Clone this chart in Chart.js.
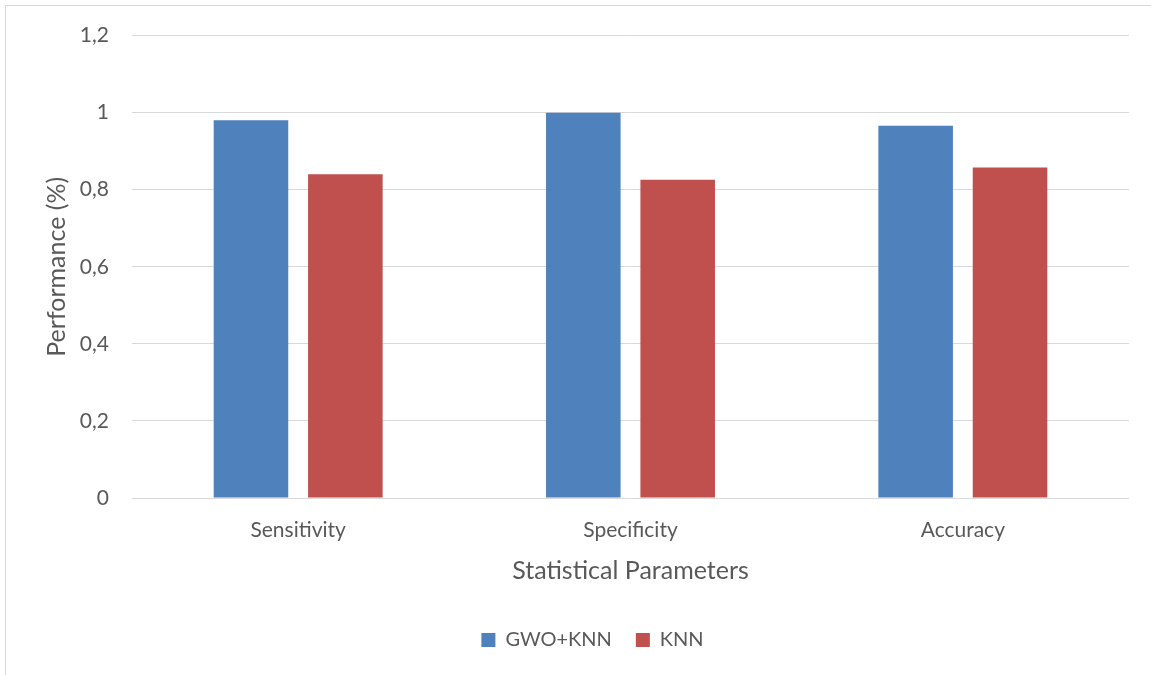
<!DOCTYPE html>
<html>
<head>
<meta charset="utf-8">
<script src="https://cdn.jsdelivr.net/npm/chart.js@4/dist/chart.umd.min.js"></script>
<style>
  html, body { margin: 0; padding: 0; background: #fff; }
  #frame { position: absolute; left: 5px; top: 5px; width: 1160px; height: 690px; border: 1px solid #d9d9d9; }
  #wrap { position: absolute; left: 0; top: 0; width: 1151px; height: 675px; }
</style>
</head>
<body>
<div id="frame"></div>
<div id="wrap"><canvas id="c" width="1151" height="675"></canvas></div>
<script>
const categories = ['Sensitivity', 'Specificity', 'Accuracy'];
const gwoKnn = [0.98, 1.0, 0.966];
const knn = [0.84, 0.826, 0.858];
const yTicks = [0, 0.2, 0.4, 0.6, 0.8, 1, 1.2];

const FONT = 'Lato, "Liberation Sans", sans-serif';
const TEXT = '#595959';

// nudges the bottom legend a little to the right of the plot centre
const legendShift = {
  id: 'legendShift',
  afterLayout(chart) {
    const lg = chart.legend;
    if (lg) { lg.left += 28; lg.right += 28; }
  }
};

new Chart(document.getElementById('c'), {
  type: 'bar',
  data: {
    labels: categories,
    datasets: [
      { label: 'GWO+KNN', data: gwoKnn, backgroundColor: '#4F81BD' },
      { label: 'KNN', data: knn, backgroundColor: '#C0504D' }
    ]
  },
  plugins: [legendShift],
  options: {
    responsive: false,
    animation: false,
    categoryPercentage: 0.568,
    barPercentage: 0.79,
    layout: { padding: { left: 0, right: 22, top: 35, bottom: 15 } },
    plugins: {
      tooltip: { enabled: false },
      legend: {
        position: 'bottom',
        labels: {
          boxWidth: 14, boxHeight: 14, padding: 24,
          color: TEXT, font: { family: FONT, size: 20 }
        }
      }
    },
    scales: {
      x: {
        grid: { display: false },
        border: { display: false },
        ticks: { color: TEXT, font: { family: FONT, size: 21 }, padding: 12 },
        title: { display: true, text: 'Statistical Parameters', color: TEXT, font: { family: FONT, size: 25 }, padding: { top: 8, bottom: 20 } },
        afterFit: s => { s.height = 108; }
      },
      y: {
        min: 0, max: 1.2,
        afterBuildTicks: s => { s.ticks = yTicks.map(v => ({ value: v })); },
        grid: { color: '#d9d9d9', lineWidth: 1, drawTicks: false },
        border: { display: false },
        ticks: {
          color: TEXT, font: { family: FONT, size: 21 }, padding: 23,
          callback: v => String(Math.round(v * 10) / 10).replace('.', ',')
        },
        title: { display: true, text: 'Performance (%)', color: TEXT, font: { family: FONT, size: 25 }, padding: { top: 42, bottom: 4 } },
        afterFit: s => { s.width = 132; }
      }
    }
  }
});
</script>
</body>
</html>
